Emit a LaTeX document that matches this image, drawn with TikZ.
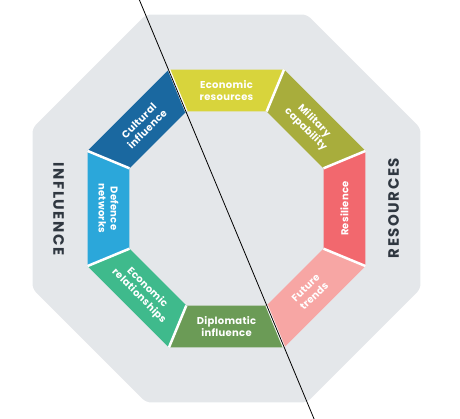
\documentclass[tikz,border=0pt]{standalone}
\usepackage{fontspec}
\setmainfont{Poppins}
\newfontfamily\segfont{Poppins}[LetterSpace=3]
\newfontfamily\sidefont{Poppins}[LetterSpace=10]
\definecolor{coct}{HTML}{E4E7EA}
\definecolor{cside}{HTML}{2F3740}
\definecolor{cecores}{HTML}{D8D43C}
\definecolor{cmil}{HTML}{A8AD3C}
\definecolor{cresil}{HTML}{F2686E}
\definecolor{cfuture}{HTML}{F7A6A4}
\definecolor{cdiplo}{HTML}{6B9B56}
\definecolor{cecorel}{HTML}{3FBA8C}
\definecolor{cdefence}{HTML}{2BA7DA}
\definecolor{ccultural}{HTML}{1A68A0}
\begin{document}
\begin{tikzpicture}[x=1pt,y=1pt,
  seglabel/.style={text=white, font=\segfont\bfseries\fontsize{10}{11.8}\selectfont, align=center, inner sep=0pt},
  sidelabel/.style={text=cside, font=\sidefont\bfseries\fontsize{15}{15}\selectfont, inner sep=0pt},
  gap/.style={white, line width=2.5pt},
  divider/.style={black, line width=0.8pt}]
\useasboundingbox (-226.5,-210.5) rectangle (233.5,208.5);
% outer grey octagon
\fill[coct, rounded corners=5pt] (22.5:209.98pt) -- (67.5:209.98pt) -- (112.5:209.98pt) -- (157.5:209.98pt)
  -- (202.5:209.98pt) -- (247.5:209.98pt) -- (292.5:209.98pt) -- (337.5:209.98pt) -- cycle;
% ring segments
\foreach \a/\c in {90/cecores, 45/cmil, 0/cresil, -45/cfuture, -90/cdiplo, -135/cecorel, 180/cdefence, 135/ccultural} {
  \fill[\c] ({\a-22.5}:150.45pt) -- ({\a+22.5}:150.45pt) -- ({\a+22.5}:105pt) -- ({\a-22.5}:105pt) -- cycle;
}
\foreach \a in {22.5,67.5,...,337.5} {
  \draw[gap] (\a:105pt) -- (\a:150.45pt);
}
% labels
\node[seglabel] (ecores) at (90:118pt) {Economic\\resources};
\node[seglabel, rotate=-45] (milcap) at (45:118pt) {Military\\capability};
\node[seglabel, rotate=90] (resil) at (0:118pt) {Resilience};
\node[seglabel, rotate=45] (future) at (-45:118pt) {Future\\trends};
\node[seglabel] (diplo) at (-90:118pt) {Diplomatic\\influence};
\node[seglabel, rotate=-45] (ecorel) at (-135:118pt) {Economic\\relationships};
\node[seglabel, rotate=-90] (defnet) at (180:118pt) {Defence\\networks};
\node[seglabel, rotate=45] (cultural) at (135:118pt) {Cultural\\influence};
\node[sidelabel, rotate=-90] (influence) at (-167.8,-0.5) {INFLUENCE};
\node[sidelabel, rotate=90] (resources) at (167,0.5) {RESOURCES};
% divider line
\coordinate (ltop) at (-87.5,209.5);
\coordinate (lbot) at (88,-211.5);
\draw[divider] (ltop) -- (lbot);
\end{tikzpicture}
\end{document}
